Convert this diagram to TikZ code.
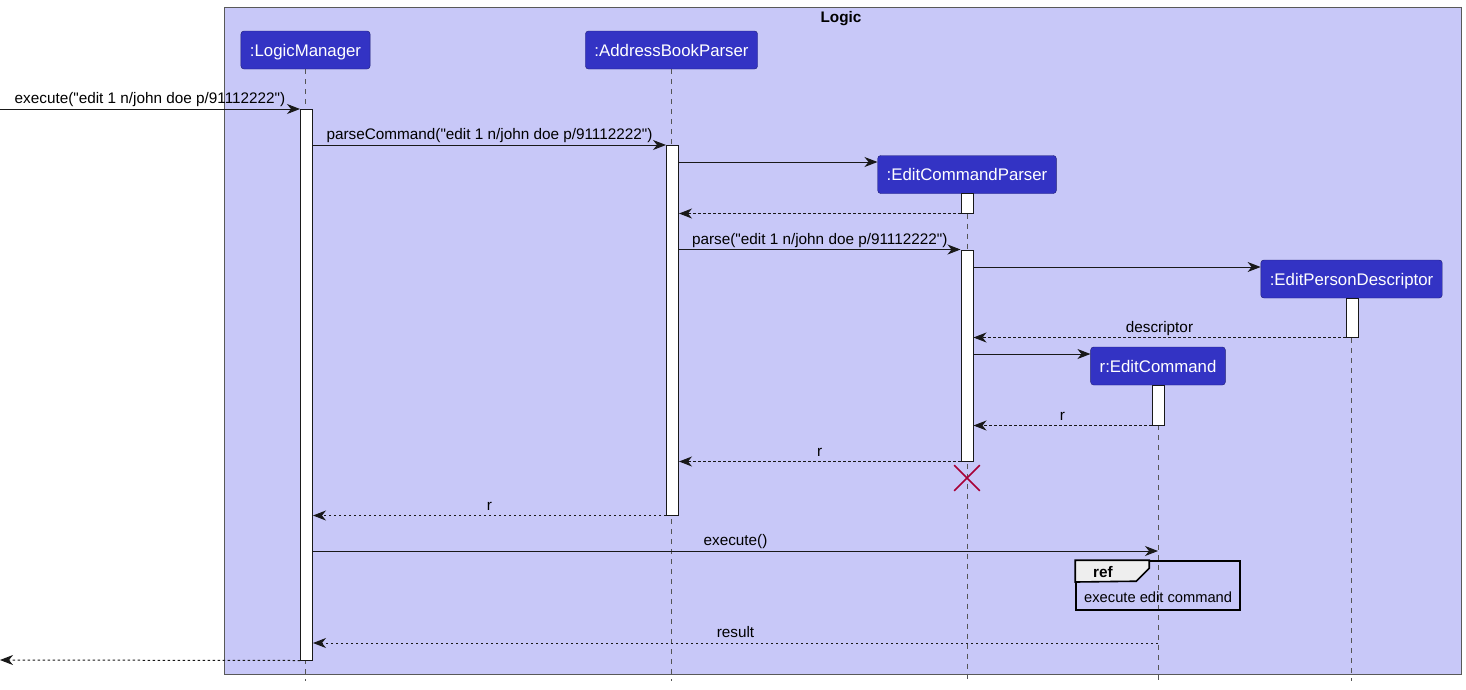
\documentclass[tikz,border=0pt]{standalone}
\usepackage{fontspec}
\setmainfont{Liberation Sans}[Ligatures=TeXOff]
\usetikzlibrary{arrows.meta,shapes.misc}
\definecolor{logicbg}{RGB}{200,200,248}
\definecolor{partblue}{RGB}{51,51,196}
\definecolor{lifegrey}{RGB}{85,85,85}
\definecolor{killred}{RGB}{168,0,54}
\definecolor{refgrey}{RGB}{238,238,238}
\begin{document}
\begin{tikzpicture}[x=1pt,y=-1pt,
    part/.style={draw=partblue!60!black,fill=partblue,text=white,rounded corners=3pt,
        font=\fontsize{16.8}{20}\selectfont,inner xsep=9pt,minimum height=38pt,text height=12pt,text depth=0pt},
    act/.style={draw=black!90,fill=white,minimum width=12pt,inner sep=0pt,line width=1pt},
    life/.style={draw=lifegrey,dash pattern=on 5pt off 5pt,line width=0.8pt},
    msg/.style={draw=black!90,line width=1pt,-{Stealth[length=13pt,width=10pt,inset=4pt]}},
    ret/.style={msg,dash pattern=on 2.5pt off 2.5pt},
    lbl/.style={midway,above,font=\fontsize{15.3}{18}\selectfont,inner sep=1pt,text height=11pt,text depth=4pt}]
                \useasboundingbox (0,0) rectangle (1466,689);
                \draw[draw=black!65,fill=logicbg] (224,7) rectangle (1461,674);
                \node[font=\bfseries\fontsize{15.3}{18}\selectfont](title) at (841,18.5){Logic};
                % participants
                \node[part](lm) at (305.5,50){:LogicManager};
                \node[part](abp) at (671.5,50){:AddressBookParser};
                \node[part](ecp) at (967,174.5){:EditCommandParser};
                \node[part](epd) at (1351.5,279){:EditPersonDescriptor};
                \node[part](ec) at (1158,366){r:EditCommand};
                \foreach \p in {lm,abp,ecp,epd,ec}
                    \draw[life](\p.south) -- (\p.south |- 0,681);
                % activations
                \node[act,minimum height=551pt](lmact) at (306.5,384.5){};
                \node[act,minimum height=370pt](abpact) at (672.5,330){};
                \node[act,minimum height=20pt](ecpact1) at (967,203){};
                \node[act,minimum height=211pt](ecpact2) at (967,355.5){};
                \node[act,minimum height=39pt](epdact) at (1352,317.5){};
                \node[act,minimum height=40pt](ecact) at (1158,405){};
                % messages
                \coordinate(caller) at (0,109);
                \coordinate(exit) at (0,660);
                \draw[msg](caller) -- (caller -| lmact.west) node[lbl]{execute("edit 1 n/john doe p/91112222")};
                \draw[msg](lmact.east |- 0,145) -- (abpact.west |- 0,145) node[lbl]{parseCommand("edit 1 n/john doe p/91112222")};
                \draw[msg](abpact.east |- 0,162) -- (ecp.west |- 0,162);
                \draw[ret](ecpact1.south west) -- (abpact.east |- ecpact1.south);
                \draw[msg](abpact.east |- ecpact2.north) -- (ecpact2.north west) node[lbl]{parse("edit 1 n/john doe p/91112222")};
                \draw[msg](ecpact2.east |- 0,267) -- (epd.west |- 0,267);
                \draw[ret](epdact.south west) -- (ecpact2.east |- epdact.south) node[lbl]{descriptor};
                \draw[msg](ecpact2.east |- 0,354) -- (ec.west |- 0,354);
                \draw[ret](ecact.south west) -- (ecpact2.east |- ecact.south) node[lbl]{r};
                \draw[ret](ecpact2.south west) -- (abpact.east |- ecpact2.south) node[lbl]{r};
                \node[draw=killred,cross out,line width=1.6pt,minimum size=24pt,inner sep=0pt](kill) at (967,478){};
                \draw[ret](abpact.south west) -- (lmact.east |- abpact.south) node[lbl]{r};
                \draw[msg](lmact.east |- 0,551) -- (ec.south |- 0,551) node[lbl]{execute()};
                % ref frame
                \node[draw,line width=1.6pt,minimum width=164pt,minimum height=49pt](ref) at (1158,585.5){};
                \draw[line width=1.6pt,fill=refgrey](ref.north west) -- ++(74,0) -- ++(0,8) -- ++(-13,13) -- (ref.west |- 0,582) -- cycle;
                \node[font=\bfseries\fontsize{15.3}{18}\selectfont](reftag) at (1103,572.5){ref};
                \node[font=\fontsize{14.7}{18}\selectfont,anchor=west,inner sep=0pt](reftext) at (1084,597.5){execute edit command};
                \draw[ret](ec.south |- 0,643) -- (lmact.east |- 0,643) node[lbl]{result};
                \draw[ret](lmact.south west) -- (exit);
            \end{tikzpicture}
\end{document}
